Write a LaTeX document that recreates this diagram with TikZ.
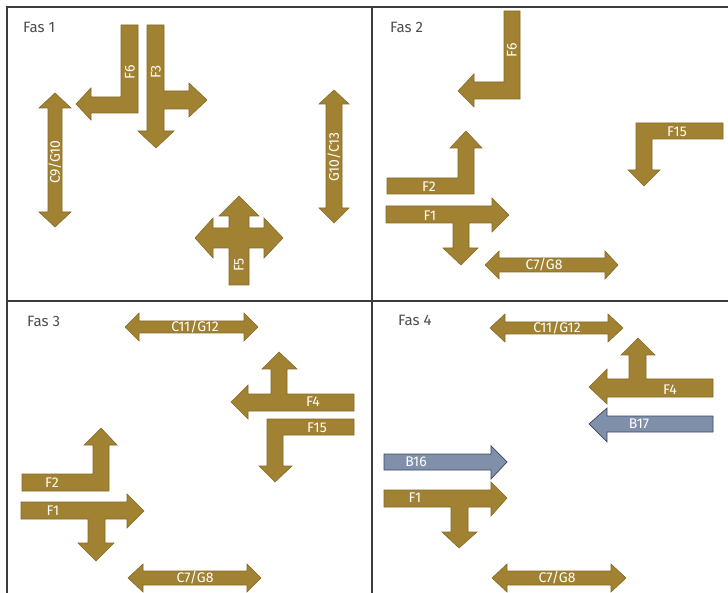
\documentclass[tikz,border=0pt]{standalone}
\usepackage{fontspec}
\setmainfont{Fira Sans}
\usepackage{tikz}
\definecolor{goldcol}{RGB}{161,130,51}
\definecolor{golddark}{RGB}{132,106,38}
\definecolor{bluecol}{RGB}{128,144,171}
\definecolor{bluedark}{RGB}{62,70,90}
\definecolor{framecol}{RGB}{60,60,60}
\tikzset{
  goldarrow/.style={fill=goldcol, draw=golddark, line width=0.6pt},
  bluearrow/.style={fill=bluecol, draw=bluedark, line width=0.7pt},
  lbl/.style={text=white, font=\fontsize{14}{15}\selectfont, inner sep=0pt},
  fas/.style={text=black!70, font=\fontsize{15}{16}\selectfont, anchor=west, inner sep=0pt},
}

\begin{document}
\begin{tikzpicture}[x=1pt, y=-1pt]
\useasboundingbox (0,0) rectangle (728,593);

% Frame
\draw[framecol, line width=2.2pt] (7,593) -- (7,7) -- (728,7);
\draw[framecol, line width=2.2pt] (372,7) -- (372,593);
\draw[framecol, line width=2.2pt] (7,301) -- (728,301);

% Fas 1
\node[fas] (fas1) at (23,27) {Fas 1};

\filldraw[goldarrow] (121,25) -- (138,25) -- (138,113) -- (91,113) -- (91,120)
  -- (76,104) -- (91,88) -- (91,97) -- (121,97) -- cycle;
\node[lbl, rotate=90] (f6a) at (130,72) {F6};

\filldraw[goldarrow] (147,25) -- (164,25) -- (164,91) -- (189,91) -- (189,83)
  -- (207,100) -- (189,117) -- (189,109) -- (164,109) -- (164,131) -- (174,131)
  -- (156,148) -- (138,131) -- (147,131) -- cycle;
\node[lbl, rotate=90] (f3a) at (156,72) {F3};

\filldraw[goldarrow] (55,93) -- (71,108) -- (62,108) -- (62,212) -- (71,212)
  -- (55,227) -- (39,212) -- (48,212) -- (48,108) -- (39,108) -- cycle;
\node[lbl, rotate=90] (c9a) at (55,162) {C9/G10};

\filldraw[goldarrow] (334,90) -- (349,104) -- (342,104) -- (342,208) -- (349,208)
  -- (334,223) -- (319,208) -- (326,208) -- (326,104) -- (319,104) -- cycle;
\node[lbl, rotate=90] (g10a) at (334,157) {G10/C13};

\filldraw[goldarrow] (239,196) -- (259,216) -- (249,216) -- (249,228) -- (264,228)
  -- (264,218) -- (283,238) -- (264,258) -- (264,248) -- (249,248) -- (249,285)
  -- (229,285) -- (229,248) -- (213,248) -- (213,258) -- (195,238) -- (213,218)
  -- (213,228) -- (229,228) -- (229,216) -- (219,216) -- cycle;
\node[lbl, rotate=90] (f5a) at (239,265) {F5};

% Fas 2
\node[fas] (fas2) at (390,27) {Fas 2};

\filldraw[goldarrow] (504,11) -- (520,11) -- (520,99) -- (474,99) -- (474,107)
  -- (458,91) -- (474,74) -- (474,82) -- (504,82) -- cycle;
\node[lbl, rotate=90] (f6b) at (512,50) {F6};

\filldraw[goldarrow] (387,178) -- (458,178) -- (458,148) -- (450,148) -- (466,131)
  -- (482,148) -- (474,148) -- (474,194) -- (387,194) -- cycle;
\node[lbl] (f2b) at (429,187) {F2};

\filldraw[goldarrow] (386,206) -- (492,206) -- (492,198) -- (509,215) -- (492,232)
  -- (492,223) -- (469,223) -- (469,248) -- (478,248) -- (461,265) -- (443,248)
  -- (453,248) -- (453,223) -- (386,223) -- cycle;
\node[lbl] (f1b) at (430,216) {F1};

\filldraw[goldarrow] (485,265) -- (499,251) -- (499,258) -- (605,258) -- (605,251)
  -- (618,265) -- (605,279) -- (605,272) -- (499,272) -- (499,279) -- cycle;
\node[lbl] (c7b) at (544,265) {C7/G8};

\filldraw[goldarrow] (723,123) -- (723,139) -- (652,139) -- (652,170) -- (660,170)
  -- (644,186) -- (628,170) -- (636,170) -- (636,123) -- cycle;
\node[lbl] (f15b) at (677,132) {F15};

% Fas 3
\node[fas] (fas3) at (27,321) {Fas 3};

\filldraw[goldarrow] (125,327) -- (139,313) -- (139,321) -- (244,321) -- (244,313)
  -- (258,327) -- (244,341) -- (244,333) -- (139,333) -- (139,341) -- cycle;
\node[lbl] (c11c) at (195,327) {C11/G12};

\filldraw[goldarrow] (354,394) -- (354,411) -- (248,411) -- (248,419) -- (231,402)
  -- (248,385) -- (248,394) -- (271,394) -- (271,369) -- (262,369) -- (279,352)
  -- (297,369) -- (287,369) -- (287,394) -- cycle;
\node[lbl] (f4c) at (313,402) {F4};

\filldraw[goldarrow] (354,419) -- (354,435) -- (283,435) -- (283,466) -- (292,466)
  -- (275,482) -- (259,466) -- (267,466) -- (267,419) -- cycle;
\node[lbl] (f15c) at (317,428) {F15};

\filldraw[goldarrow] (22,474) -- (93,474) -- (93,445) -- (84,445) -- (101,428)
  -- (117,445) -- (109,445) -- (109,491) -- (22,491) -- cycle;
\node[lbl] (f2c) at (52,483) {F2};

\filldraw[goldarrow] (21,502) -- (127,502) -- (127,494) -- (144,511) -- (127,528)
  -- (127,519) -- (105,519) -- (105,543) -- (114,543) -- (96,561) -- (78,543)
  -- (88,543) -- (88,519) -- (21,519) -- cycle;
\node[lbl] (f1c) at (53,511) {F1};

\filldraw[goldarrow] (128,578) -- (143,564) -- (143,571) -- (247,571) -- (247,564)
  -- (261,578) -- (247,592) -- (247,585) -- (143,585) -- (143,592) -- cycle;
\node[lbl] (c7c) at (195,578) {C7/G8};

% Fas 4
\node[fas] (fas4) at (398,320) {Fas 4};

\filldraw[goldarrow] (490,328) -- (505,314) -- (505,322) -- (608,322) -- (608,314)
  -- (623,328) -- (608,342) -- (608,334) -- (505,334) -- (505,342) -- cycle;
\node[lbl] (c11d) at (557,328) {C11/G12};

\filldraw[goldarrow] (713,379) -- (713,397) -- (607,397) -- (607,404) -- (589,387)
  -- (607,369) -- (607,379) -- (629,379) -- (629,355) -- (621,355) -- (638,338)
  -- (655,355) -- (646,355) -- (646,379) -- cycle;
\node[lbl] (f4d) at (670,390) {F4};

\filldraw[bluearrow] (713,416) -- (713,432) -- (607,432) -- (607,442) -- (589,424)
  -- (607,408) -- (607,416) -- cycle;
\node[lbl] (b17d) at (639,424) {B17};

\filldraw[bluearrow] (384,454) -- (491,454) -- (491,446) -- (507,462) -- (491,479)
  -- (491,470) -- (384,470) -- cycle;
\node[lbl] (b16d) at (416,462) {B16};

\filldraw[goldarrow] (384,490) -- (491,490) -- (491,482) -- (507,498) -- (491,516)
  -- (491,507) -- (468,507) -- (468,532) -- (477,532) -- (459,548) -- (442,532)
  -- (451,532) -- (451,507) -- (384,507) -- cycle;
\node[lbl] (f1d) at (415,498) {F1};

\filldraw[goldarrow] (492,578) -- (507,564) -- (507,571) -- (611,571) -- (611,564)
  -- (626,578) -- (611,592) -- (611,585) -- (507,585) -- (507,592) -- cycle;
\node[lbl] (c7d) at (557,578) {C7/G8};

\end{tikzpicture}
\end{document}
